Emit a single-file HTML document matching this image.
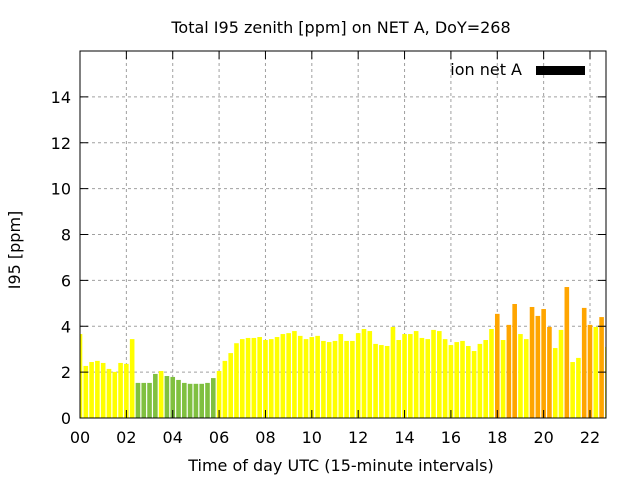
<!DOCTYPE html>
<html><head><meta charset="utf-8"><style>
body{margin:0;background:#fff}
svg{display:block;font-family:"DejaVu Sans","Liberation Sans",sans-serif}
</style></head><body>
<svg id="chart" width="640" height="480" viewBox="0 0 640 480">
<text x="341" y="33" font-size="16" text-anchor="middle">Total I95 zenith [ppm] on NET A, DoY=268</text>
<g id="grid"></g>
<g id="bars"></g>
<g id="axes"></g>
<text transform="translate(20,250) rotate(-90)" font-size="16" text-anchor="middle">I95 [ppm]</text>
<text x="341" y="471" font-size="16" text-anchor="middle">Time of day UTC (15-minute intervals)</text>
<g>
<text x="522" y="75" font-size="16" text-anchor="end">ion net A</text>
<rect x="536" y="66" width="49" height="9" fill="#000"></rect>
</g>
</svg>
<script>
const values=[3.66,2.27,2.44,2.49,2.40,2.14,2.01,2.40,2.36,3.44,1.53,1.53,1.53,1.92,2.05,1.83,1.79,1.66,1.53,1.49,1.49,1.49,1.53,1.74,2.05,2.49,2.83,3.26,3.44,3.49,3.49,3.53,3.40,3.44,3.53,3.66,3.70,3.79,3.58,3.44,3.53,3.58,3.36,3.31,3.36,3.66,3.36,3.36,3.70,3.88,3.79,3.23,3.18,3.14,3.97,3.40,3.66,3.66,3.79,3.49,3.44,3.84,3.79,3.44,3.18,3.31,3.36,3.14,2.92,3.23,3.40,3.88,4.54,3.40,4.06,4.97,3.66,3.44,4.84,4.45,4.75,3.97,3.05,3.84,5.71,2.44,2.62,4.80,4.06,3.97,4.40,3.10];
const levels="YYYYYYYYYYGGGGYGGGGGGGGGYYYYYYYYYYYYYYYYYYYYYYYYYYYYYYYYYYYYYYYYYYYYYYYYOYOOYYOOOOYYOYYOOYOY";
const yTicks=[0,2,4,6,8,10,12,14];
const xTickLabels=["00","02","04","06","08","10","12","14","16","18","20","22"];
const L=80,R=606,T=51,B=418,xMaxH=22.69,yMax=16.0;
const sx=h=>L+h*(R-L)/xMaxH, sy=v=>B-v*(B-T)/yMax;
const NS="http://www.w3.org/2000/svg";
const mk=(p,t,a)=>{const e=document.createElementNS(NS,t);for(const k in a)e.setAttribute(k,a[k]);p.appendChild(e);return e;};
const grid=document.getElementById('grid'),bars=document.getElementById('bars'),axes=document.getElementById('axes');
yTicks.forEach(v=>{
 if(v>0){const g=mk(grid,'line',{x1:L,x2:R,y1:sy(v),y2:sy(v),stroke:'#a0a0a0','stroke-dasharray':'3,3'});
 
 }
 mk(axes,'line',{x1:L,x2:L+8,y1:sy(v),y2:sy(v),stroke:'#000'});
 mk(axes,'line',{x1:R,x2:R-8,y1:sy(v),y2:sy(v),stroke:'#000'});
 const t=mk(axes,'text',{x:L-9,y:sy(v)+6,'font-size':16,'text-anchor':'end'});t.textContent=v;
 
 
});
xTickLabels.forEach((lab,i)=>{
 const x=sx(i*2);
 if(i>0){const g=mk(grid,'line',{x1:x,x2:x,y1:T,y2:B,stroke:'#a0a0a0','stroke-dasharray':'3,3'});
 
 }
 mk(axes,'line',{x1:x,x2:x,y1:B,y2:B-8,stroke:'#000'});
 mk(axes,'line',{x1:x,x2:x,y1:T,y2:T+8,stroke:'#000'});
 const t=mk(axes,'text',{x:x,y:B+25,'font-size':16,'text-anchor':'middle'});t.textContent=lab;
 
 
});
const cols={Y:'#ffff00',G:'#80c040',O:'#ffa500'};
mk(bars,'clipPath',{id:'clip'}).appendChild(document.createElementNS(NS,'rect'));
const cr=bars.querySelector('clipPath rect');cr.setAttribute('x',L);cr.setAttribute('y',T);cr.setAttribute('width',R-L);cr.setAttribute('height',B-T);
values.forEach((v,i)=>{
 const c=sx(i*0.25),w=4.6;
 const r=mk(bars,'rect',{x:c-w/2,y:sy(v),width:w,height:B-sy(v),fill:cols[levels[i]]||cols.Y,'clip-path':'url(#clip)'});
 
 
});
const bd=mk(axes,'rect',{x:L,y:T,width:R-L,height:B-T,fill:'none',stroke:'#000','stroke-width':1});


</script>
</body></html>
